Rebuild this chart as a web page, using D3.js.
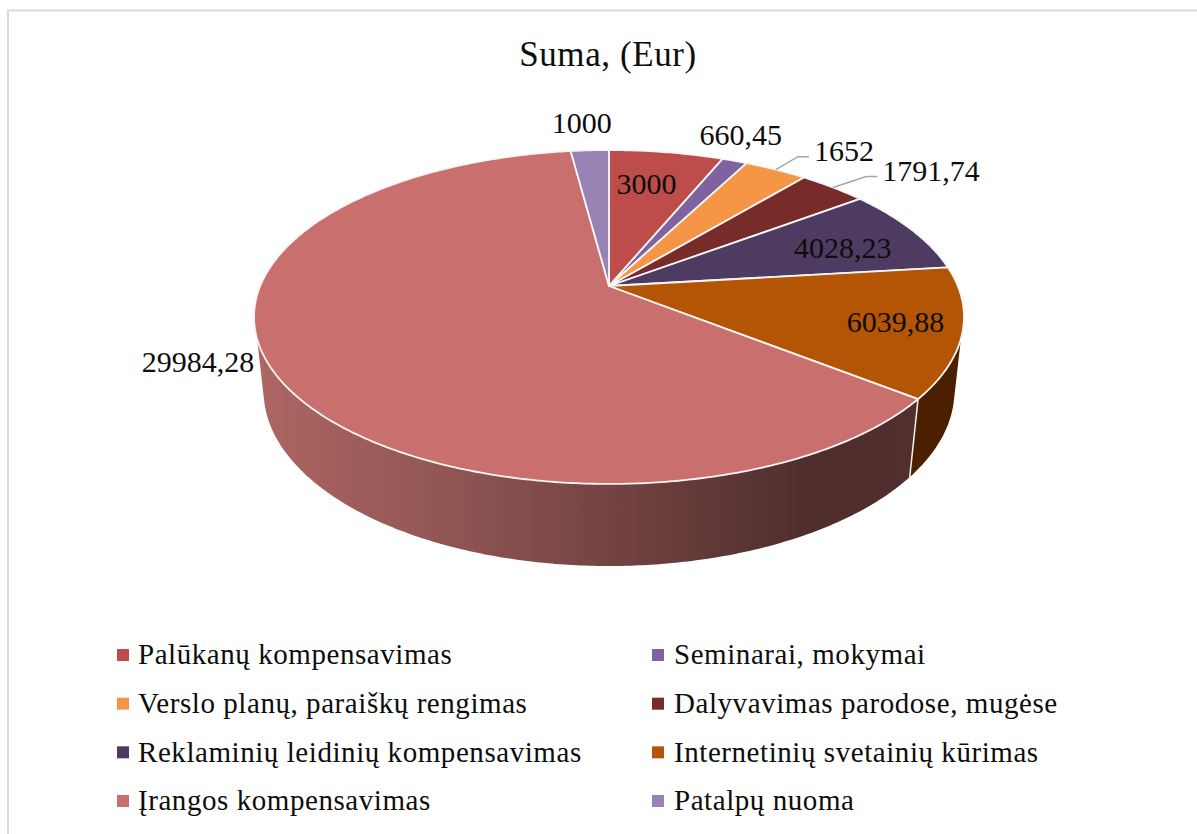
<!DOCTYPE html>
<html><head><meta charset="utf-8">
<style>html,body{margin:0;padding:0;background:#fff}svg{display:block}text{font-family:"Liberation Serif",serif;fill:#0d0d0d}</style>
<script src="https://cdn.jsdelivr.net/npm/d3@7"></script></head>
<body><svg id="c" width="1197" height="834"></svg>
<script>
const categories=["Palūkanų kompensavimas","Seminarai, mokymai","Verslo planų, paraiškų rengimas","Dalyvavimas parodose, mugėse","Reklaminių leidinių kompensavimas","Internetinių svetainių kūrimas","Įrangos kompensavimas","Patalpų nuoma"];
const values=[3000,660.45,1652,1791.74,4028.23,6039.88,29984.28,1000];
const valueLabels=["3000","660,45","1652","1791,74","4028,23","6039,88","29984,28","1000"];
const topColors=["#BC4D4A","#7F63A1","#F49646","#772C2A","#4D3B62","#B45505","#C9706F","#9982B4"];
const wallColors=["#5e2625","#40324f","#7a4b23","#3c1615","#261e31","#4a2000","url(#wall)","#4d415a"];
const labelOffsets=[[-20,31],[6,-26],[68,-19],[98,-17],[-69,18],[-67,-11],[-77,-12],[-8,-28]];
const hasLeader=[false,false,true,true,false,false,false,false];
const title="Suma, (Eur)";

const svg=d3.select("#c");
const defs=svg.append("defs");
const g=defs.append("linearGradient").attr("id","wall").attr("gradientUnits","userSpaceOnUse").attr("x1",258).attr("x2",911).attr("y1",0).attr("y2",0);
[[0,"#ad6663"],[.3,"#8f5553"],[.6,"#6c3f3e"],[.85,"#4f2d2d"],[1,"#522e2e"]].forEach(s=>g.append("stop").attr("offset",s[0]).attr("stop-color",s[1]));

// frame
svg.append("path").attr("d","M8 834V10.5H1197").attr("fill","none").attr("stroke","#d9d9d9").attr("stroke-width",2);

// perspective projection of a unit disc
const K=0.1856,CX=609,DEG=Math.PI/180;
const face=(R,S,y0)=>(a,r=1)=>{const x=r*Math.sin(a),y=r*Math.cos(a),d=1+K*y;return [CX+R*x/d,y0-S*y/d];};
const topP=face(348.8,161.2,286),botP=face(339.4,169,358.5);
const wallTopA=108*DEG,wallBotA=104.5*DEG;  // where the wall's outline leaves each rim

const arcs=d3.pie().sort(null).value(d=>d)(values);
const samples=(a,b)=>{const n=Math.max(2,Math.ceil((b-a)/0.01));return d3.range(n+1).map(i=>a+(b-a)*i/n);};
const line=d3.line();

// walls
arcs.forEach((d,i)=>{
  const ta=Math.max(d.startAngle,wallTopA),tb=Math.min(d.endAngle,2*Math.PI-wallTopA);
  const ba=Math.max(d.startAngle,wallBotA),bb=Math.min(d.endAngle,2*Math.PI-wallBotA);
  if(bb<=ba||tb<=ta) return;
  const pts=samples(ta,tb).map(v=>topP(v)).concat(samples(ba,bb).reverse().map(v=>botP(v)));
  svg.append("path").attr("d",line(pts)+"Z").attr("fill",wallColors[i]);
  if(d.startAngle>=wallTopA) svg.append("path").attr("d",line([topP(d.startAngle),botP(d.startAngle)])).attr("stroke","#f2f2f2").attr("stroke-width",1.5).attr("fill","none");
});

// top face
arcs.forEach((d,i)=>{
  const pts=[topP(0,0)].concat(samples(d.startAngle,d.endAngle).map(v=>topP(v)));
  svg.append("path").attr("d",line(pts)+"Z").attr("fill",topColors[i]).attr("stroke","#f8f5f5").attr("stroke-width",1.8).attr("stroke-linejoin","round");
});

// labels and leaders
arcs.forEach((d,i)=>{
  const rim=topP((d.startAngle+d.endAngle)/2);
  const lx=rim[0]+labelOffsets[i][0],ly=rim[1]+labelOffsets[i][1];
  const t=svg.append("text").attr("x",lx).attr("y",ly).attr("dy","0.35em").attr("text-anchor","middle").attr("font-size",30).text(valueLabels[i]);
  if(hasLeader[i]){
    const w=t.node().getComputedTextLength();
    const ex=lx-w/2-5;
    svg.append("path").attr("d",line([rim,[ex-11,ly+6],[ex,ly+6]])).attr("fill","none").attr("stroke","#a6a6a6").attr("stroke-width",1.5);
  }
});

svg.append("text").attr("x",608).attr("y",54).attr("dy","0.35em").attr("text-anchor","middle").attr("font-size",35).attr("letter-spacing",0.6).text(title);

// legend
const rows=d3.scalePoint().domain(d3.range(4)).range([655,801]);
const cols=[117,652];
categories.forEach((c,i)=>{
  const x=cols[i%2],y=rows(Math.floor(i/2));
  svg.append("rect").attr("x",x).attr("y",y-6).attr("width",12).attr("height",12).attr("fill",topColors[i]);
  svg.append("text").attr("x",x+21+(i%2?1:0)).attr("y",y).attr("dy","0.32em").attr("font-size",29).attr("letter-spacing",0.56).text(c);
});
</script></body></html>
